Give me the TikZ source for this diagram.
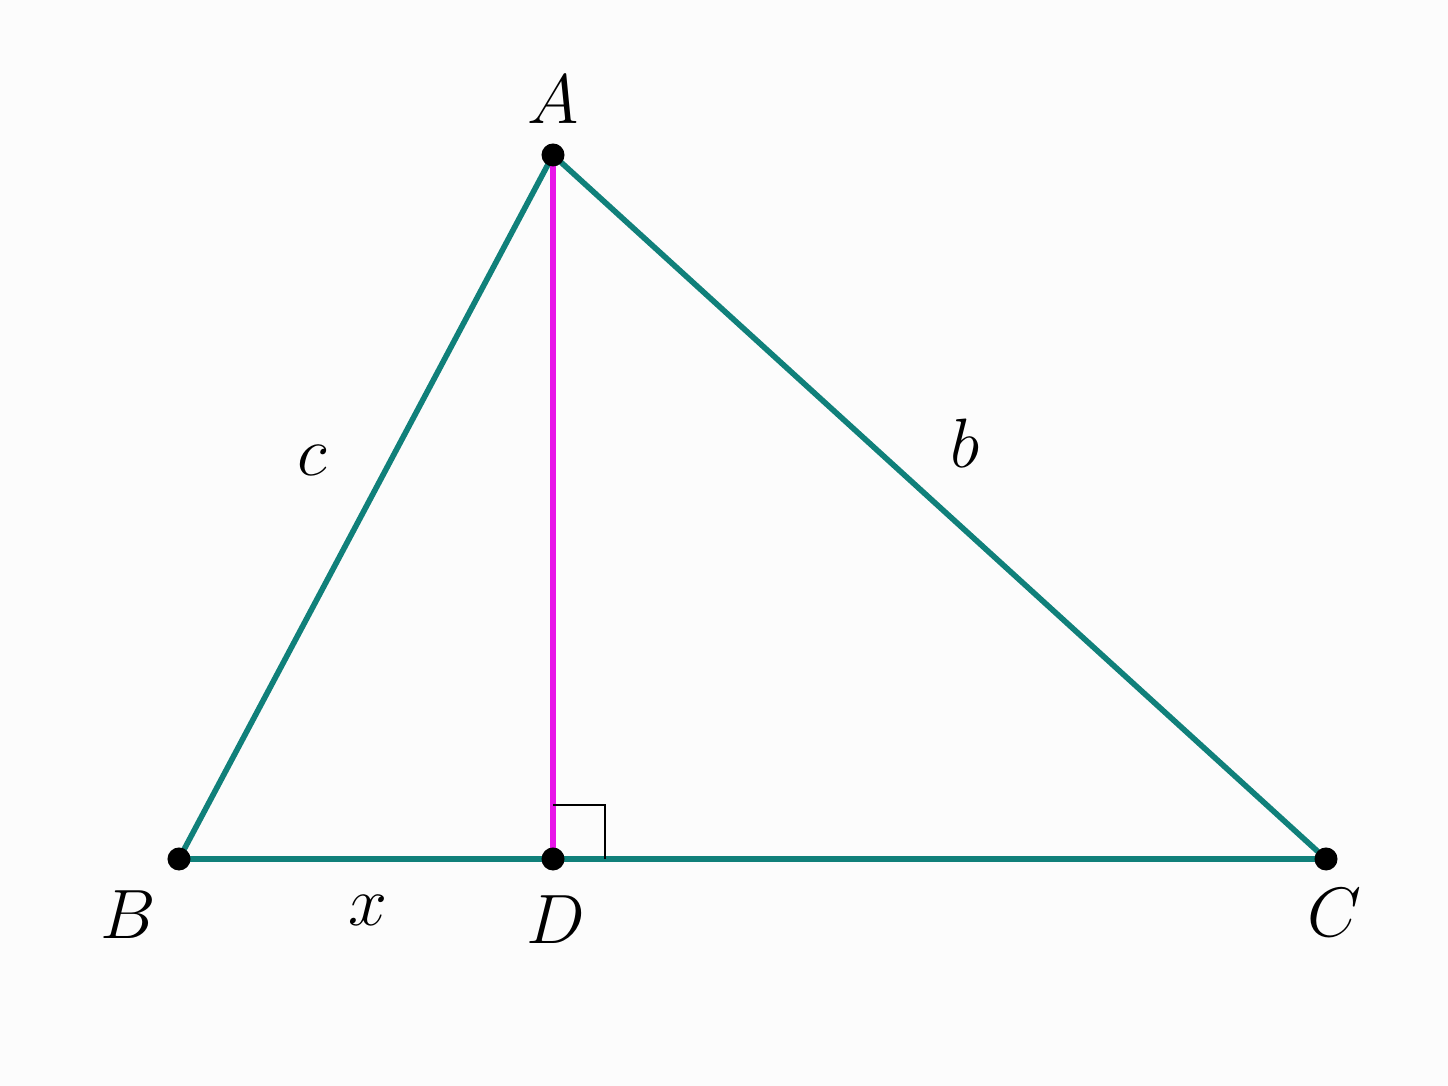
\documentclass[tikz,border=0pt]{standalone}
\usepackage{tikz}
\definecolor{tealc}{RGB}{16,128,122}
\definecolor{magc}{RGB}{232,20,232}
\definecolor{bgc}{RGB}{252,252,252}
\begin{document}
\begin{tikzpicture}[x=0.01cm,y=-0.01cm,
  side/.style={draw=tealc,line width=1.6pt},
  alt/.style={draw=magc,line width=1.6pt},
  pt/.style={circle,fill=black,inner sep=0pt,minimum size=0.23cm},
  lbl/.style={font=\LARGE,inner sep=0pt,scale=1.15}]
\fill[bgc] (0,0) rectangle (1448,1086);
\useasboundingbox (0,0) rectangle (1448,1086);
\coordinate (A) at (553,155);
\coordinate (B) at (179,859);
\coordinate (C) at (1326,859);
\coordinate (D) at (553,859);
\draw[side] (B) -- (C);
\draw[side] (B) -- (A) -- (C);
\draw[alt] (A) -- (D);
\coordinate (R1) at (553,805);
\coordinate (R2) at (605,805);
\coordinate (R3) at (605,859);
\draw[black,line width=0.8pt] (R1) -- (R2) -- (R3);
\node[pt] (nA) at (A) {};
\node[pt] (nB) at (B) {};
\node[pt] (nC) at (C) {};
\node[pt] (nD) at (D) {};
\node[lbl] (lA) at (553,100) {$A$};
\node[lbl] (lB) at (128,915) {$B$};
\node[lbl] (lD) at (556,920) {$D$};
\node[lbl] (lC) at (1334,913) {$C$};
\node[lbl] (lc) at (312,460) {$c$};
\node[lbl] (lb) at (965,443) {$b$};
\node[lbl] (lx) at (368,910) {$x$};
\end{tikzpicture}
\end{document}
